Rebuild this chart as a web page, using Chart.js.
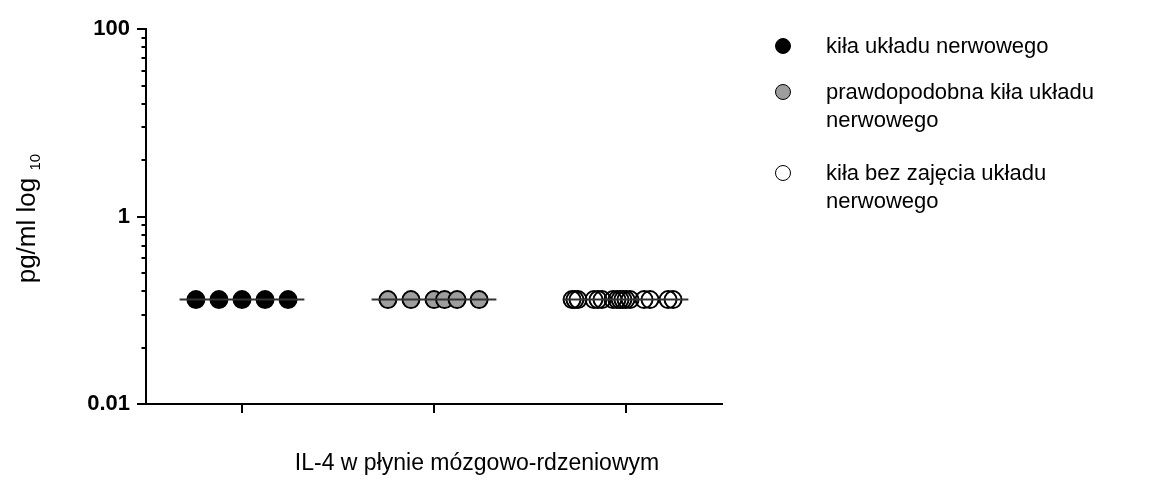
<!DOCTYPE html>
<html>
<head>
<meta charset="utf-8">
<script src="https://cdn.jsdelivr.net/npm/chart.js@4.4.1/dist/chart.umd.min.js"></script>
<style>
    html, body { margin: 0; padding: 0; background: #fff; }
    #wrap { position: relative; width: 1173px; height: 494px; }
    #chart { position: absolute; left: 0; top: 0; }
    .legend { position: absolute; left: 0; top: 0; font-family: Arial, 'Liberation Sans', sans-serif; font-size: 22px; color: #000; }
    .item { position: absolute; left: 826px; line-height: 28px; white-space: nowrap; }
    .mark { position: absolute; left: -51px; top: 6px; width: 16px; height: 16px; border-radius: 50%; border: 1.6px solid #000; box-sizing: border-box; }
    #xtitle { position: absolute; left: 477px; top: 449px; transform: translateX(-50%); font-family: Arial, 'Liberation Sans', sans-serif; font-size: 23px; color: #000; white-space: nowrap; }
</style>
</head>
<body>
<div id="wrap">
    <canvas id="chart" width="1173" height="494"></canvas>
    <div class="legend" id="legend"></div>
    <div id="xtitle">IL-4 w płynie mózgowo-rdzeniowym</div>
</div>
<script>
const groups = ['kiła układu nerwowego', 'prawdopodobna kiła układu\nnerwowego', 'kiła bez zajęcia układu\nnerwowego'];
const groupFill = ['#000000', '#9e9e9e', 'rgba(255,255,255,0)'];
const legendFill = ['#000000', '#9e9e9e', '#ffffff'];

// horizontal scatter of each dot around its group (x axis units)
const neuroJitter = [-0.24, -0.12, 0, 0.12, 0.24];
const probableJitter = [-0.24, -0.12, 0, 0.055, 0.12, 0.235];
const noneJitter = [-0.281, -0.266, -0.25, -0.167, -0.146, -0.125, -0.068, -0.047, -0.031, -0.016, 0, 0.021, 0.094, 0.125, 0.219, 0.245];

// values in pg/ml
const neuroValues = [0.13, 0.13, 0.13, 0.13, 0.13];
const probableValues = [0.13, 0.13, 0.13, 0.13, 0.13, 0.13];
const noneValues = [0.13, 0.13, 0.13, 0.13, 0.13, 0.13, 0.13, 0.13, 0.13, 0.13, 0.13, 0.13, 0.13, 0.13, 0.13, 0.13];
const medians = [0.13, 0.13, 0.13];

const yTicks = [0.01, 0.04, 0.09, 0.16, 0.25, 0.36, 0.49, 0.64, 0.81, 1, 4, 9, 16, 25, 36, 49, 64, 81, 100];
const yLabels = { 0.01: '0.01', 1: '1', 100: '100' };
const xTicks = [0, 1, 2];

const jitters = [neuroJitter, probableJitter, noneJitter];
const values = [neuroValues, probableValues, noneValues];

function toPoints(g) {
    return values[g].map((v, i) => ({ x: g + jitters[g][i], y: v }));
}

const datasets = [];
medians.forEach((m, g) => {
    datasets.push({
        type: 'line',
        data: [{ x: g - 0.325, y: m }, { x: g + 0.325, y: m }],
        borderColor: '#333333',
        borderWidth: 2,
        pointRadius: 0,
        order: 0
    });
});
groups.forEach((name, g) => {
    datasets.push({
        type: 'scatter',
        label: name,
        data: toPoints(g),
        backgroundColor: groupFill[g],
        borderColor: '#000000',
        borderWidth: 2,
        pointRadius: 8.5,
        pointHoverRadius: 8.5,
        clip: false,
        order: 1
    });
});

const axisTicks = {
    id: 'axisTicks',
    afterDraw(chart) {
        const ctx = chart.ctx;
        const xs = chart.scales.x;
        const ys = chart.scales.y;
        ctx.save();
        ctx.strokeStyle = '#000';
        ctx.lineWidth = 2;
        ctx.beginPath();
        yTicks.forEach(v => {
            const py = Math.round(ys.getPixelForValue(v));
            const len = yLabels[v] ? 9 : 4.5;
            ctx.moveTo(xs.left - len, py);
            ctx.lineTo(xs.left, py);
        });
        xTicks.forEach(v => {
            const px = Math.round(xs.getPixelForValue(v));
            ctx.moveTo(px, ys.bottom);
            ctx.lineTo(px, ys.bottom + 9);
        });
        ctx.stroke();

        // y title with subscript
        const main = 'pg/ml log ';
        const sub = '10';
        ctx.fillStyle = '#000';
        ctx.textBaseline = 'alphabetic';
        ctx.font = '26px Arial, "Liberation Sans", sans-serif';
        const wMain = ctx.measureText(main).width;
        ctx.font = '15px Arial, "Liberation Sans", sans-serif';
        const wSub = ctx.measureText(sub).width;
        ctx.translate(35, (ys.top + ys.bottom) / 2 + 2);
        ctx.rotate(-Math.PI / 2);
        const start = -(wMain + wSub) / 2;
        ctx.font = '26px Arial, "Liberation Sans", sans-serif';
        ctx.fillText(main, start, 0);
        ctx.font = '15px Arial, "Liberation Sans", sans-serif';
        ctx.fillText(sub, start + wMain, 5);
        ctx.restore();
    }
};

new Chart(document.getElementById('chart'), {
    type: 'scatter',
    data: { datasets: datasets },
    options: {
        responsive: false,
        animation: false,
        layout: { padding: { top: 24, right: 451, left: 0, bottom: 0 } },
        plugins: { legend: { display: false }, tooltip: { enabled: false } },
        scales: {
            x: {
                type: 'linear',
                min: -0.5,
                max: 2.5,
                grid: { display: false },
                border: { display: true, color: '#000', width: 2 },
                ticks: { display: false },
                afterFit(scale) { scale.height = 90; }
            },
            y: {
                type: 'logarithmic',
                min: 0.01,
                max: 100,
                grid: { display: false, drawTicks: false },
                border: { display: true, color: '#000', width: 2 },
                afterBuildTicks(scale) {
                    scale.ticks = yTicks.map(v => ({ value: v, major: !!yLabels[v] }));
                },
                ticks: {
                    autoSkip: false,
                    padding: 16,
                    color: '#000',
                    font: { family: 'Arial, "Liberation Sans", sans-serif', size: 22, weight: 'bold' },
                    callback: v => yLabels[v] || ''
                },
                afterFit(scale) { scale.width = 146; }
            }
        }
    },
    plugins: [axisTicks]
});

// legend with wrapped labels
const legendTops = [32, 78, 159];
const legend = document.getElementById('legend');
groups.forEach((name, g) => {
    const item = document.createElement('div');
    item.className = 'item';
    item.style.top = legendTops[g] + 'px';
    item.innerHTML = name.split('\n').join('<br>');
    const mark = document.createElement('span');
    mark.className = 'mark';
    mark.style.background = legendFill[g];
    item.appendChild(mark);
    legend.appendChild(item);
});
</script>
</body>
</html>
